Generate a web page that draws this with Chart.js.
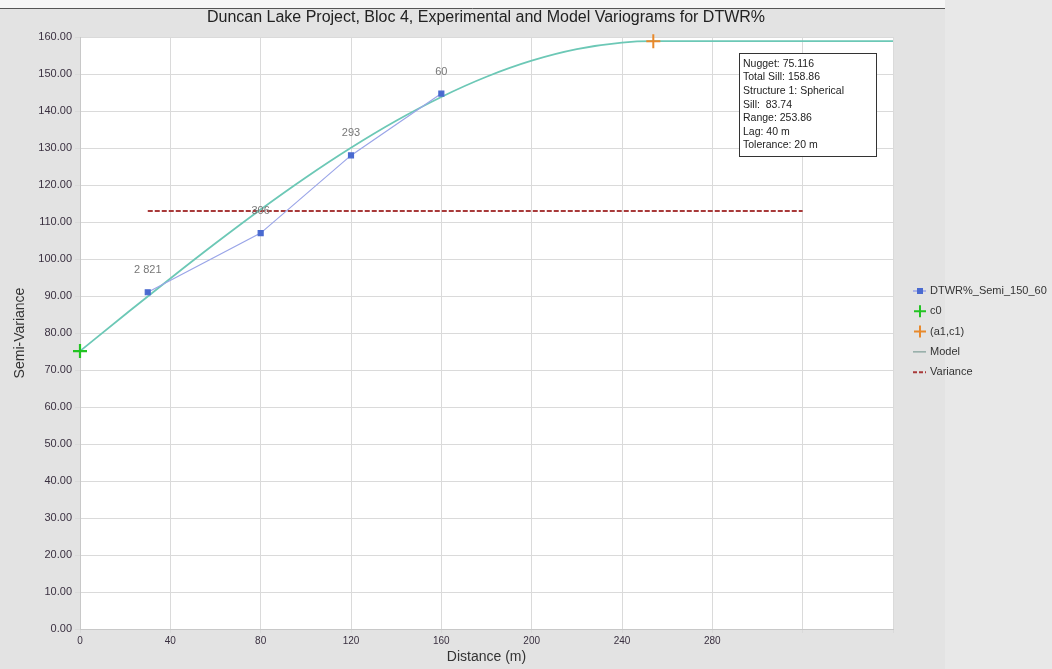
<!DOCTYPE html>
<html>
<head>
<meta charset="utf-8">
<script src="https://cdn.jsdelivr.net/npm/chart.js@4/dist/chart.umd.min.js"></script>
<style>
  html, body { margin: 0; padding: 0; background: #e4e4e4; }
  #wrap { width: 1052px; height: 669px; position: relative; }
</style>
</head>
<body>
<div id="wrap"><canvas id="c" width="1052" height="669"></canvas></div>
<script>
// ---- Data ----
const expDistances = [30, 80, 120, 160];
const expValues = [91.0, 107.0, 128.0, 144.7];
const expPairs = ['2 821', '306', '293', '60'];

const nuggetPoint = [0, 75.116];
const sillPoint = [253.86, 158.86];

const modelDistances = [0, 20, 40, 60, 80, 100, 120, 140, 160, 180, 200, 220, 240, 253.86, 360];
const modelValues = [75.12, 84.99, 94.75, 104.25, 113.39, 122.04, 130.07, 137.37, 143.80, 149.26, 153.60, 156.72, 158.49, 158.86, 158.86];

const varianceDistances = [30, 320];
const varianceValues = [113.0, 113.0];

const infoLines = ['Nugget: 75.116', 'Total Sill: 158.86', 'Structure 1: Spherical', 'Sill:  83.74', 'Range: 253.86', 'Lag: 40 m', 'Tolerance: 20 m'];
const titleText = 'Duncan Lake Project, Bloc 4, Experimental and Model Variograms for DTWR%';
const xTitle = 'Distance (m)';
const yTitle = 'Semi-Variance';
const xLabeledMax = 280;

const toXY = (xs, ys) => xs.map((x, i) => ({x: x, y: ys[i]}));

const bgPlugin = {
  id: 'bg',
  beforeDraw(chart) {
    const ctx = chart.ctx, a = chart.chartArea;
    ctx.save();
    ctx.fillStyle = '#e3e3e3';
    ctx.fillRect(0, 0, chart.width, chart.height);
    ctx.fillStyle = '#e8e8e8';
    ctx.fillRect(945, 0, chart.width - 945, chart.height);
    ctx.fillStyle = '#f6f6f6';
    ctx.fillRect(0, 0, 945, 8);
    ctx.strokeStyle = '#555';
    ctx.lineWidth = 1;
    ctx.beginPath(); ctx.moveTo(0, 8.5); ctx.lineTo(945, 8.5); ctx.stroke();
    ctx.fillStyle = '#ffffff';
    ctx.fillRect(a.left, a.top, a.right - a.left, a.bottom - a.top);
    ctx.restore();
  }
};

const titlePlugin = {
  id: 'customTitle',
  afterDraw(chart) {
    const ctx = chart.ctx;
    ctx.save();
    ctx.font = '16px "Liberation Sans", Arial, sans-serif';
    ctx.fillStyle = '#222';
    ctx.textAlign = 'center';
    ctx.textBaseline = 'middle';
    ctx.fillText(titleText, 486, 18);
    ctx.restore();
  }
};

const labelPlugin = {
  id: 'pairLabels',
  afterDatasetsDraw(chart) {
    const ctx = chart.ctx;
    const meta = chart.getDatasetMeta(0);
    ctx.save();
    ctx.font = '11px "Liberation Sans", Arial, sans-serif';
    ctx.fillStyle = '#777';
    ctx.textAlign = 'center';
    ctx.textBaseline = 'middle';
    meta.data.forEach((pt, i) => {
      ctx.fillText(expPairs[i], pt.x, pt.y - 22);
    });
    ctx.restore();
  }
};

const infoPlugin = {
  id: 'info',
  afterDraw(chart) {
    const ctx = chart.ctx;
    ctx.save();
    ctx.fillStyle = '#ffffff';
    ctx.fillRect(739.5, 53.5, 137, 103);
    ctx.strokeStyle = '#333';
    ctx.lineWidth = 1;
    ctx.strokeRect(739.5, 53.5, 137, 103);
    ctx.font = '10.5px "Liberation Sans", Arial, sans-serif';
    ctx.fillStyle = '#222';
    ctx.textBaseline = 'middle';
    infoLines.forEach((t, i) => ctx.fillText(t, 743, 64 + i * 13.6));
    ctx.restore();
  }
};

const legendPlugin = {
  id: 'customLegend',
  afterDraw(chart) {
    const ctx = chart.ctx;
    const x0 = 913, y0 = 291, dy = 20.3;
    ctx.save();
    ctx.font = '11px "Liberation Sans", Arial, sans-serif';
    ctx.textBaseline = 'middle';
    chart.data.datasets.forEach((ds, i) => {
      const y = y0 + i * dy;
      ctx.strokeStyle = ds.borderColor;
      if (ds.legendKind === 'square') {
        ctx.lineWidth = 1.5;
        ctx.beginPath(); ctx.moveTo(x0, y); ctx.lineTo(x0 + 13, y); ctx.stroke();
        ctx.fillStyle = ds.pointBackgroundColor;
        ctx.fillRect(x0 + 4, y - 3, 6, 6);
      } else if (ds.legendKind === 'cross') {
        ctx.lineWidth = 2;
        ctx.beginPath();
        ctx.moveTo(x0 + 1, y); ctx.lineTo(x0 + 13, y);
        ctx.moveTo(x0 + 7, y - 6); ctx.lineTo(x0 + 7, y + 6);
        ctx.stroke();
      } else if (ds.legendKind === 'line') {
        ctx.lineWidth = 1;
        ctx.strokeStyle = '#6a8f88';
        ctx.beginPath(); ctx.moveTo(x0, y); ctx.lineTo(x0 + 13, y); ctx.stroke();
      } else if (ds.legendKind === 'dash') {
        ctx.lineWidth = 2;
        ctx.setLineDash([4, 2]);
        ctx.beginPath(); ctx.moveTo(x0, y); ctx.lineTo(x0 + 13, y); ctx.stroke();
        ctx.setLineDash([]);
      }
      ctx.fillStyle = '#333';
      ctx.fillText(ds.label, x0 + 17, y);
    });
    ctx.restore();
  }
};

new Chart(document.getElementById('c'), {
  type: 'line',
  data: {
    datasets: [
      {
        label: 'DTWR%_Semi_150_60',
        data: toXY(expDistances, expValues),
        borderColor: '#9aa5e8',
        borderWidth: 1.2,
        pointStyle: 'rect',
        pointRadius: 3.5,
        pointBackgroundColor: '#4a6ad0',
        pointBorderColor: '#4a6ad0',
        legendKind: 'square',
        order: 1
      },
      {
        label: 'c0',
        data: [{x: nuggetPoint[0], y: nuggetPoint[1]}],
        showLine: false,
        borderColor: '#22c422',
        pointStyle: 'cross',
        pointRadius: 7,
        pointBorderWidth: 2.2,
        pointBorderColor: '#22c422',
        clip: false,
        legendKind: 'cross',
        order: 0
      },
      {
        label: '(a1,c1)',
        data: [{x: sillPoint[0], y: sillPoint[1]}],
        showLine: false,
        borderColor: '#e8892b',
        pointStyle: 'cross',
        pointRadius: 7,
        pointBorderWidth: 2,
        pointBorderColor: '#e8892b',
        clip: false,
        legendKind: 'cross',
        order: 0
      },
      {
        label: 'Model',
        data: toXY(modelDistances, modelValues),
        borderColor: '#6cc8b6',
        borderWidth: 1.8,
        pointRadius: 0,
        cubicInterpolationMode: 'monotone',
        legendKind: 'line',
        order: 2
      },
      {
        label: 'Variance',
        data: toXY(varianceDistances, varianceValues),
        borderColor: '#a83a3a',
        borderWidth: 2,
        borderDash: [5, 2],
        pointRadius: 0,
        legendKind: 'dash',
        order: 3
      }
    ]
  },
  options: {
    responsive: false,
    animation: false,
    layout: { padding: { left: 0, right: 159, top: 37, bottom: 0 } },
    plugins: {
      legend: { display: false },
      tooltip: { enabled: false },
      title: { display: false }
    },
    scales: {
      x: {
        type: 'linear',
        min: 0, max: 360,
        afterFit(s) { s.height = 40; },
        ticks: {
          stepSize: 40,
          autoSkip: false,
          maxRotation: 0,
          padding: 2,
          color: '#3a3040',
          font: { family: '"Liberation Sans", Arial, sans-serif', size: 10 },
          callback: (v) => (v <= xLabeledMax ? String(v) : '')
        },
        grid: { color: '#dadada', tickLength: 4, drawTicks: true },
        border: { color: '#c8c8c8' },
        title: {
          display: true,
          text: xTitle,
          color: '#333',
          font: { family: '"Liberation Sans", Arial, sans-serif', size: 14 },
          padding: { top: 0, bottom: 3 }
        }
      },
      y: {
        type: 'linear',
        min: 0, max: 160,
        afterFit(s) { s.width = 80; },
        ticks: {
          stepSize: 10,
          padding: 3,
          color: '#3a3040',
          font: { family: '"Liberation Sans", Arial, sans-serif', size: 11 },
          callback: (v) => Number(v).toFixed(2)
        },
        grid: { color: '#dadada', tickLength: 5 },
        border: { color: '#c8c8c8' },
        title: {
          display: true,
          text: yTitle,
          color: '#333',
          font: { family: '"Liberation Sans", Arial, sans-serif', size: 14 },
          padding: { top: 12, bottom: 0 }
        }
      }
    }
  },
  plugins: [bgPlugin, labelPlugin, infoPlugin, legendPlugin, titlePlugin]
});
</script>
</body>
</html>
